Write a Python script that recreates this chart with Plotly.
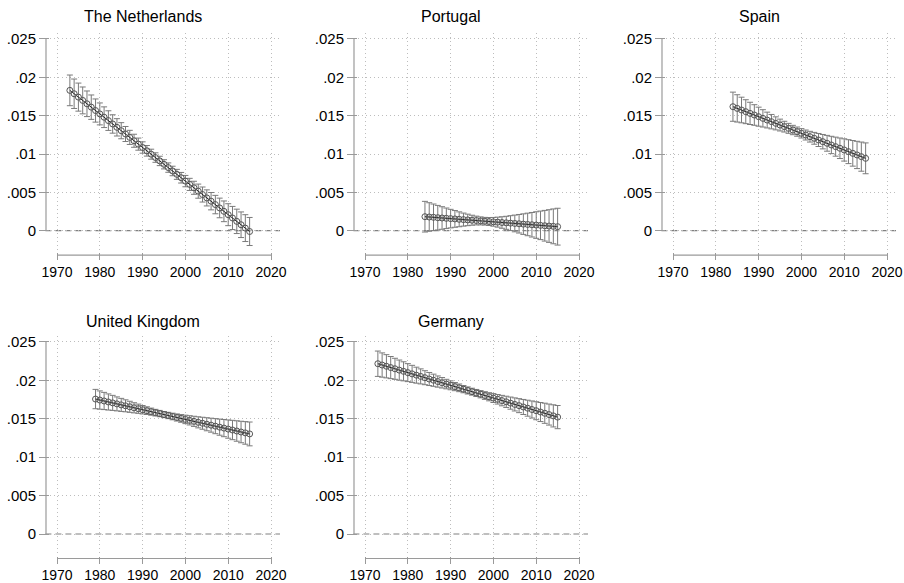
import plotly.graph_objects as go

# ---------------- data ----------------
countries = ["The Netherlands", "Portugal", "Spain", "United Kingdom", "Germany"]

years_nl = list(range(1973, 2016))
est_nl = [.01830, .01786, .01742, .01699, .01655, .01611, .01567, .01523, .01480, .01436,
          .01392, .01348, .01304, .01261, .01217, .01173, .01129, .01085, .01042, .00998,
          .00954, .00910, .00866, .00823, .00779, .00735, .00691, .00647, .00604, .00560,
          .00516, .00472, .00428, .00385, .00341, .00297, .00253, .00209, .00166, .00122,
          .00078, .00034, -.00010]
ci_nl = [.00200, .00192, .00183, .00175, .00167, .00159, .00151, .00143, .00135, .00128,
         .00120, .00113, .00105, .00098, .00092, .00085, .00079, .00074, .00069, .00065,
         .00062, .00061, .00060, .00061, .00062, .00065, .00069, .00074, .00079, .00085,
         .00092, .00098, .00105, .00113, .00120, .00128, .00135, .00143, .00151, .00159,
         .00167, .00175, .00183]

years_pt = list(range(1984, 2016))
est_pt = [.00183, .00179, .00175, .00170, .00166, .00162, .00158, .00154, .00149, .00145,
          .00141, .00137, .00133, .00128, .00124, .00120, .00116, .00112, .00107, .00103,
          .00099, .00095, .00091, .00086, .00082, .00078, .00074, .00070, .00065, .00061,
          .00057, .00053]
ci_pt = [.00200, .00186, .00173, .00160, .00147, .00134, .00121, .00109, .00097, .00085,
         .00075, .00065, .00057, .00052, .00050, .00052, .00057, .00065, .00075, .00085,
         .00097, .00109, .00121, .00134, .00147, .00160, .00173, .00186, .00200, .00213,
         .00227, .00240]

years_es = list(range(1984, 2016))
est_es = [.01617, .01595, .01574, .01552, .01530, .01509, .01487, .01465, .01443, .01422,
          .01400, .01378, .01357, .01335, .01313, .01292, .01270, .01248, .01226, .01205,
          .01183, .01161, .01140, .01118, .01096, .01075, .01053, .01031, .01009, .00988,
          .00966, .00944]
ci_es = [.00190, .00178, .00167, .00156, .00145, .00134, .00124, .00113, .00103, .00094,
         .00085, .00077, .00070, .00065, .00061, .00060, .00061, .00065, .00070, .00077,
         .00085, .00094, .00103, .00113, .00124, .00134, .00145, .00156, .00167, .00178,
         .00190, .00201]

years_uk = list(range(1979, 2016))
est_uk = [.01757, .01744, .01732, .01719, .01707, .01694, .01681, .01669, .01656, .01643,
          .01631, .01618, .01606, .01593, .01580, .01568, .01555, .01543, .01530, .01517,
          .01505, .01492, .01480, .01467, .01454, .01442, .01429, .01417, .01404, .01391,
          .01379, .01366, .01354, .01341, .01328, .01316, .01303]
ci_uk = [.00126, .00119, .00112, .00105, .00098, .00091, .00085, .00078, .00072, .00066,
         .00060, .00055, .00050, .00046, .00043, .00041, .00040, .00041, .00043, .00046,
         .00050, .00055, .00060, .00066, .00072, .00078, .00085, .00091, .00098, .00105,
         .00112, .00119, .00126, .00133, .00140, .00147, .00155]

years_de = list(range(1973, 2016))
est_de = [.02217, .02200, .02184, .02167, .02151, .02134, .02118, .02101, .02085, .02068,
          .02052, .02035, .02018, .02002, .01985, .01969, .01952, .01936, .01919, .01903,
          .01886, .01869, .01853, .01836, .01820, .01803, .01787, .01770, .01754, .01737,
          .01721, .01704, .01687, .01671, .01654, .01638, .01621, .01605, .01588, .01572,
          .01555, .01538, .01522]
ci_de = [.00165, .00158, .00151, .00144, .00137, .00131, .00124, .00117, .00111, .00104,
         .00098, .00091, .00085, .00079, .00073, .00068, .00062, .00058, .00053, .00050,
         .00047, .00046, .00045, .00046, .00047, .00050, .00053, .00058, .00062, .00068,
         .00073, .00079, .00085, .00091, .00098, .00104, .00111, .00117, .00124, .00131,
         .00137, .00144, .00151]

x_ticks = [1970, 1980, 1990, 2000, 2010, 2020]
y_ticks = [0, 0.005, 0.01, 0.015, 0.02, 0.025]
y_tick_labels = ["0", ".005", ".01", ".015", ".02", ".025"]

series = [
    (years_nl, est_nl, ci_nl),
    (years_pt, est_pt, ci_pt),
    (years_es, est_es, ci_es),
    (years_uk, est_uk, ci_uk),
    (years_de, est_de, ci_de),
]

# ---------------- layout geometry (pixels) ----------------
W, H = 904, 583
col_px = [(50, 280), (358, 588), (666, 896)]
row_px = [(33, 252.2), (336, 555.5)]
pos = [(0, 0), (0, 1), (0, 2), (1, 0), (1, 1)]
title_x = [143, 451, 759]
title_y = [17, 321.5]

FONT = "Arial, Liberation Sans, Helvetica, sans-serif"
AXIS_COL = "#9a9a9a"
GRID_COL = "#bdbdbd"

fig = go.Figure()
shapes = []
annotations = []

for i, ((r, c), name, (yrs, est, ci)) in enumerate(zip(pos, countries, series), start=1):
    xa = "x" if i == 1 else f"x{i}"
    ya = "y" if i == 1 else f"y{i}"
    fig.add_trace(go.Scatter(
        x=yrs, y=est, mode="lines+markers",
        xaxis=xa, yaxis=ya, showlegend=False, hoverinfo="skip",
        line=dict(color="#222222", width=1),
        marker=dict(symbol="circle-open", size=6, color="#555555", line=dict(width=1)),
        error_y=dict(type="data", array=ci, symmetric=True,
                     color="#7a7a7a", thickness=1, width=3),
    ))
    l, rr = col_px[c]
    t, b = row_px[r]
    xdom = [l / W, rr / W]
    ydom = [1 - b / H, 1 - t / H]
    fig.layout[f"xaxis{'' if i == 1 else i}"] = dict(
        domain=xdom, anchor=ya, range=[1968.36, 2022.1], fixedrange=True,
        tickvals=x_ticks, ticks="outside", ticklen=7, tickcolor=AXIS_COL, tickwidth=1,
        showline=False, zeroline=False,
        showgrid=True, gridcolor=GRID_COL, griddash="1px,3px", gridwidth=1,
        tickfont=dict(family=FONT, size=14, color="#000000"),
    )
    fig.layout[f"yaxis{'' if i == 1 else i}"] = dict(
        domain=ydom, anchor=xa, range=[-0.0028, 0.02578], fixedrange=True,
        tickvals=y_ticks, ticktext=y_tick_labels,
        ticks="outside", ticklen=10, tickcolor=AXIS_COL, tickwidth=1,
        showline=False, zeroline=False,
        showgrid=True, gridcolor=GRID_COL, griddash="1px,3px", gridwidth=1,
        tickfont=dict(family=FONT, size=15, color="#000000"),
    )
    # x axis line spanning tick range
    shapes.append(dict(type="line", xref=xa, yref="paper",
                       x0=1970, x1=2020, y0=1 - (b + 3) / H, y1=1 - (b + 3) / H,
                       line=dict(color=AXIS_COL, width=1.2)))
    # y axis line spanning tick range
    shapes.append(dict(type="line", xref="paper", yref=ya,
                       x0=(l - 4) / W, x1=(l - 4) / W, y0=0, y1=0.025,
                       line=dict(color=AXIS_COL, width=1.2)))
    # dashed zero reference line
    shapes.append(dict(type="line", xref=f"{xa} domain", yref=ya,
                       x0=-0.02, x1=1, y0=0, y1=0, layer="below",
                       line=dict(color="#808080", width=1.2, dash="6px,4px")))
    annotations.append(dict(text=name, xref="paper", yref="paper",
                            x=title_x[c] / W, y=1 - title_y[r] / H,
                            xanchor="center", yanchor="middle", showarrow=False,
                            font=dict(family=FONT, size=16, color="#000000")))

fig.update_layout(
    width=W, height=H, margin=dict(l=0, r=0, t=0, b=0, autoexpand=False),
    paper_bgcolor="white", plot_bgcolor="white",
    shapes=shapes, annotations=annotations,
    font=dict(family=FONT), hovermode=False,
)

fig.write_html("out.html", config={"displayModeBar": False, "staticPlot": False},
               post_script="document.body.style.margin='0px';document.body.style.overflow='hidden';")
